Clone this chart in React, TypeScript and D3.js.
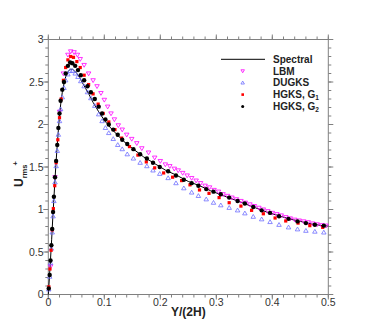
import React from "react";
import * as d3 from "d3";

const spectral: [number, number][] = [
  [0, 0], [0.002, 0.2], [0.004, 0.42], [0.006, 0.65], [0.008, 0.9], [0.01, 1.13], [0.012, 1.36],
  [0.014, 1.57], [0.016, 1.76], [0.018, 1.94], [0.02, 2.1], [0.022, 2.23], [0.025, 2.38],
  [0.028, 2.48], [0.031, 2.56], [0.035, 2.62], [0.039, 2.65], [0.043, 2.65], [0.047, 2.63],
  [0.051, 2.6], [0.056, 2.55], [0.061, 2.49], [0.067, 2.42], [0.073, 2.35], [0.08, 2.26],
  [0.09, 2.15], [0.1, 2.05], [0.11, 1.97], [0.12, 1.9], [0.135, 1.8], [0.15, 1.72],
  [0.17, 1.62], [0.19, 1.54], [0.21, 1.46], [0.23, 1.4], [0.25, 1.33], [0.27, 1.28],
  [0.29, 1.22], [0.31, 1.17], [0.33, 1.12], [0.35, 1.07], [0.37, 1.02], [0.39, 0.97],
  [0.41, 0.93], [0.43, 0.89], [0.45, 0.86], [0.47, 0.83], [0.49, 0.81], [0.5, 0.805],
];

const lbm: [number, number][] = [
  [0.004, 0.33], [0.012, 1.38], [0.02, 2.15], [0.027, 2.6], [0.035, 2.82], [0.04, 2.86],
  [0.046, 2.85], [0.052, 2.82], [0.057, 2.77], [0.064, 2.7], [0.072, 2.6], [0.08, 2.52],
  [0.087, 2.45], [0.094, 2.37], [0.1, 2.29], [0.106, 2.21], [0.112, 2.13], [0.118, 2.06],
  [0.125, 1.99], [0.132, 1.94], [0.14, 1.88], [0.149, 1.83], [0.158, 1.78], [0.167, 1.72],
  [0.179, 1.67], [0.19, 1.61], [0.2, 1.57], [0.209, 1.53], [0.217, 1.51], [0.225, 1.48],
  [0.232, 1.46], [0.24, 1.43], [0.248, 1.4], [0.256, 1.37], [0.264, 1.34], [0.272, 1.31],
  [0.28, 1.28], [0.288, 1.26], [0.296, 1.23], [0.304, 1.21], [0.312, 1.18], [0.32, 1.16],
  [0.328, 1.14], [0.336, 1.12], [0.344, 1.1], [0.352, 1.08], [0.36, 1.06], [0.368, 1.04],
  [0.376, 1.02], [0.384, 1.0], [0.392, 0.98], [0.4, 0.96], [0.408, 0.945], [0.416, 0.93],
  [0.424, 0.91], [0.432, 0.895], [0.44, 0.88], [0.448, 0.87], [0.456, 0.86], [0.464, 0.85],
  [0.472, 0.835], [0.48, 0.825], [0.488, 0.815], [0.496, 0.81],
];

const dugks: [number, number][] = [
  [0.0008, 0.06], [0.0025, 0.21], [0.004, 0.37], [0.0055, 0.54], [0.007, 0.73], [0.0085, 0.92],
  [0.01, 1.1], [0.012, 1.32], [0.014, 1.51], [0.016, 1.69], [0.018, 1.88], [0.02, 2.04],
  [0.022, 2.18], [0.025, 2.32], [0.028, 2.43], [0.031, 2.52], [0.035, 2.59], [0.039, 2.63],
  [0.043, 2.63], [0.048, 2.6], [0.053, 2.56], [0.058, 2.51], [0.064, 2.45], [0.07, 2.38],
  [0.076, 2.31], [0.083, 2.22], [0.09, 2.12], [0.096, 2.04], [0.102, 1.96], [0.108, 1.9],
  [0.116, 1.83], [0.124, 1.76], [0.132, 1.71], [0.141, 1.65], [0.152, 1.6], [0.164, 1.55],
  [0.176, 1.51], [0.187, 1.46], [0.199, 1.42], [0.214, 1.37], [0.228, 1.31], [0.242, 1.25],
  [0.256, 1.2], [0.268, 1.16], [0.282, 1.12], [0.295, 1.08], [0.308, 1.05], [0.323, 1.02],
  [0.338, 0.99], [0.351, 0.955], [0.366, 0.915], [0.381, 0.885], [0.396, 0.853], [0.412, 0.82],
  [0.429, 0.79], [0.445, 0.767], [0.46, 0.75], [0.476, 0.74], [0.492, 0.73],
];

const hgksG1: [number, number][] = [
  [0.001, 0.09], [0.003, 0.3], [0.005, 0.52], [0.007, 0.76], [0.009, 1.01], [0.0115, 1.28],
  [0.014, 1.55], [0.017, 1.82], [0.02, 2.08], [0.023, 2.3], [0.027, 2.52], [0.031, 2.67],
  [0.035, 2.76], [0.04, 2.8], [0.045, 2.79], [0.051, 2.74], [0.057, 2.67], [0.064, 2.58],
  [0.072, 2.47], [0.08, 2.36], [0.089, 2.24], [0.098, 2.13], [0.108, 2.03], [0.119, 1.94],
  [0.131, 1.84], [0.145, 1.74], [0.16, 1.64], [0.175, 1.56], [0.19, 1.49], [0.206, 1.43],
  [0.222, 1.38], [0.238, 1.34], [0.253, 1.29], [0.27, 1.23], [0.287, 1.19], [0.305, 1.14],
  [0.323, 1.08], [0.344, 1.04], [0.363, 0.99], [0.384, 0.95], [0.405, 0.9], [0.424, 0.865],
  [0.446, 0.84], [0.467, 0.81], [0.49, 0.79],
];

const hgksG2: [number, number][] = [
  [0.0008, 0.07], [0.0025, 0.23], [0.004, 0.4], [0.0055, 0.58], [0.007, 0.77], [0.0085, 0.97],
  [0.01, 1.15], [0.012, 1.38], [0.014, 1.57], [0.016, 1.76], [0.018, 1.96], [0.02, 2.13],
  [0.022, 2.28], [0.025, 2.41], [0.028, 2.5], [0.031, 2.6], [0.035, 2.69], [0.039, 2.73],
  [0.043, 2.72], [0.048, 2.69], [0.053, 2.64], [0.058, 2.58], [0.064, 2.52], [0.07, 2.45],
  [0.076, 2.38], [0.083, 2.3], [0.09, 2.21], [0.096, 2.13], [0.102, 2.06], [0.108, 2.0],
  [0.116, 1.94], [0.124, 1.88], [0.132, 1.82], [0.141, 1.77], [0.152, 1.71], [0.164, 1.65],
  [0.176, 1.6], [0.187, 1.55], [0.199, 1.5], [0.214, 1.45], [0.228, 1.4], [0.242, 1.35],
  [0.256, 1.31], [0.268, 1.28], [0.282, 1.24], [0.295, 1.21], [0.308, 1.18], [0.323, 1.14],
  [0.338, 1.1], [0.351, 1.07], [0.366, 1.03], [0.381, 0.99], [0.396, 0.96], [0.412, 0.92],
  [0.429, 0.89], [0.445, 0.86], [0.46, 0.84], [0.476, 0.82], [0.492, 0.81],
];

const xMajor = [0, 0.1, 0.2, 0.3, 0.4, 0.5];
const yMajor = [0, 0.5, 1, 1.5, 2, 2.5, 3];
const xTickLabels = ["0", "0.1", "0.2", "0.3", "0.4", "0.5"];
const yTickLabels = ["0", "0.5", "1", "1.5", "2", "2.5", "3"];

const W = 374, H = 332;
const L = 48.3, R = 328.3, T = 39.5, B = 294.5;
const AX = "#808080";
const MAG = "#ff00ff";
const BLUE = "#6f6fff";
const RED = "#ff0000";

export default function App() {
  const x = d3.scaleLinear().domain([0, 0.5]).range([L, R]);
  const y = d3.scaleLinear().domain([0, 3]).range([B, T]);
  const line = d3.line<[number, number]>().x(d => x(d[0])).y(d => y(d[1]));
  const xMinor = d3.range(0, 0.5001, 0.02);
  const yMinor = d3.range(0, 3.0001, 0.1);
  const font = "'Liberation Sans', Arial, sans-serif";

  const triDown = (cx: number, cy: number, s: number) =>
    `M${cx - s / 2},${cy - s * 0.35} L${cx + s / 2},${cy - s * 0.35} L${cx},${cy + s * 0.5} Z`;
  const triUp = (cx: number, cy: number, s: number) =>
    `M${cx - s / 2},${cy + s * 0.35} L${cx + s / 2},${cy + s * 0.35} L${cx},${cy - s * 0.5} Z`;

  const legY = [59.3, 71.0, 82.8, 94.6, 106.4];
  const legSymX = 242.7;
  const legTextX = 273;

  return (
    <svg width={W} height={H} style={{ position: "absolute", left: 0, top: 0, background: "#fff" }} fontFamily={font}>
      {/* ticks */}
      {xMinor.map((v, i) => (
        <g key={"xm" + i} stroke={AX} strokeWidth={1}>
          <line x1={x(v)} x2={x(v)} y1={B} y2={B + 3} />
          <line x1={x(v)} x2={x(v)} y1={T} y2={T - 3} />
        </g>
      ))}
      {xMajor.map((v, i) => (
        <g key={"xM" + i} stroke={AX} strokeWidth={1}>
          <line x1={x(v)} x2={x(v)} y1={B} y2={B + 5} />
          <line x1={x(v)} x2={x(v)} y1={T} y2={T - 5} />
        </g>
      ))}
      {yMinor.map((v, i) => (
        <g key={"ym" + i} stroke={AX} strokeWidth={1}>
          <line x1={L} x2={L - 3} y1={y(v)} y2={y(v)} />
          <line x1={R} x2={R + 3} y1={y(v)} y2={y(v)} />
        </g>
      ))}
      {yMajor.map((v, i) => (
        <g key={"yM" + i} stroke={AX} strokeWidth={1}>
          <line x1={L} x2={L - 5} y1={y(v)} y2={y(v)} />
          <line x1={R} x2={R + 5} y1={y(v)} y2={y(v)} />
        </g>
      ))}
      <rect x={L} y={T} width={R - L} height={B - T} fill="none" stroke={AX} strokeWidth={1} />
      {xMajor.map((v, i) => (
        <text key={"xl" + i} x={x(v)} y={306} fontSize={10.5} textAnchor="middle" fill="#333">{xTickLabels[i]}</text>
      ))}
      {yMajor.map((v, i) => (
        <text key={"yl" + i} x={43.5} y={y(v) + 3.8} fontSize={10.5} textAnchor="end" fill="#333">{yTickLabels[i]}</text>
      ))}
      <text x={(L + R) / 2} y={316} fontSize={12} fontWeight="bold" textAnchor="middle" fill="#222">Y/(2H)</text>
      <text transform="translate(23,187) rotate(-90)" fontSize={12} fontWeight="bold" fill="#222">
        U<tspan fontSize={7.5} dy={3.5}>rms</tspan><tspan fontSize={7.5} dy={-9} dx={-1}>+</tspan>
      </text>

      {/* data */}
      <path d={line(spectral) || ""} fill="none" stroke="#000" strokeWidth={1} />
      {lbm.map((d, i) => (
        <path key={"l" + i} d={triDown(x(d[0]), y(d[1]), 4.5)} fill="none" stroke={MAG} strokeWidth={0.8} />
      ))}
      {dugks.map((d, i) => (
        <path key={"d" + i} d={triUp(x(d[0]), y(d[1]), 4.5)} fill="none" stroke={BLUE} strokeWidth={0.8} />
      ))}
      {hgksG1.map((d, i) => (
        <rect key={"r" + i} x={x(d[0]) - 1.6} y={y(d[1]) - 1.6} width={3.2} height={3.2} fill={RED} />
      ))}
      {hgksG2.map((d, i) => (
        <circle key={"b" + i} cx={x(d[0])} cy={y(d[1])} r={2.2} fill="#000" />
      ))}

      {/* legend */}
      <line x1={221} x2={265} y1={legY[0]} y2={legY[0]} stroke="#000" strokeWidth={1} />
      <path d={triDown(legSymX, legY[1], 3.5)} fill="none" stroke={MAG} strokeWidth={0.8} />
      <path d={triUp(legSymX, legY[2], 3.5)} fill="none" stroke={BLUE} strokeWidth={0.8} />
      <rect x={legSymX - 1.3} y={legY[3] - 1.3} width={2.6} height={2.6} fill={RED} />
      <circle cx={legSymX} cy={legY[4]} r={1.5} fill="#000" />
      <g fontSize={10} fontWeight="bold" fill="#222">
        <text x={legTextX} y={legY[0] + 3.5}>Spectral</text>
        <text x={legTextX} y={legY[1] + 3.5}>LBM</text>
        <text x={legTextX} y={legY[2] + 3.5}>DUGKS</text>
        <text x={legTextX} y={legY[3] + 3.5}>HGKS, G<tspan fontSize={6.5} dy={2}>1</tspan></text>
        <text x={legTextX} y={legY[4] + 3.5}>HGKS, G<tspan fontSize={6.5} dy={2}>2</tspan></text>
      </g>
    </svg>
  );
}
